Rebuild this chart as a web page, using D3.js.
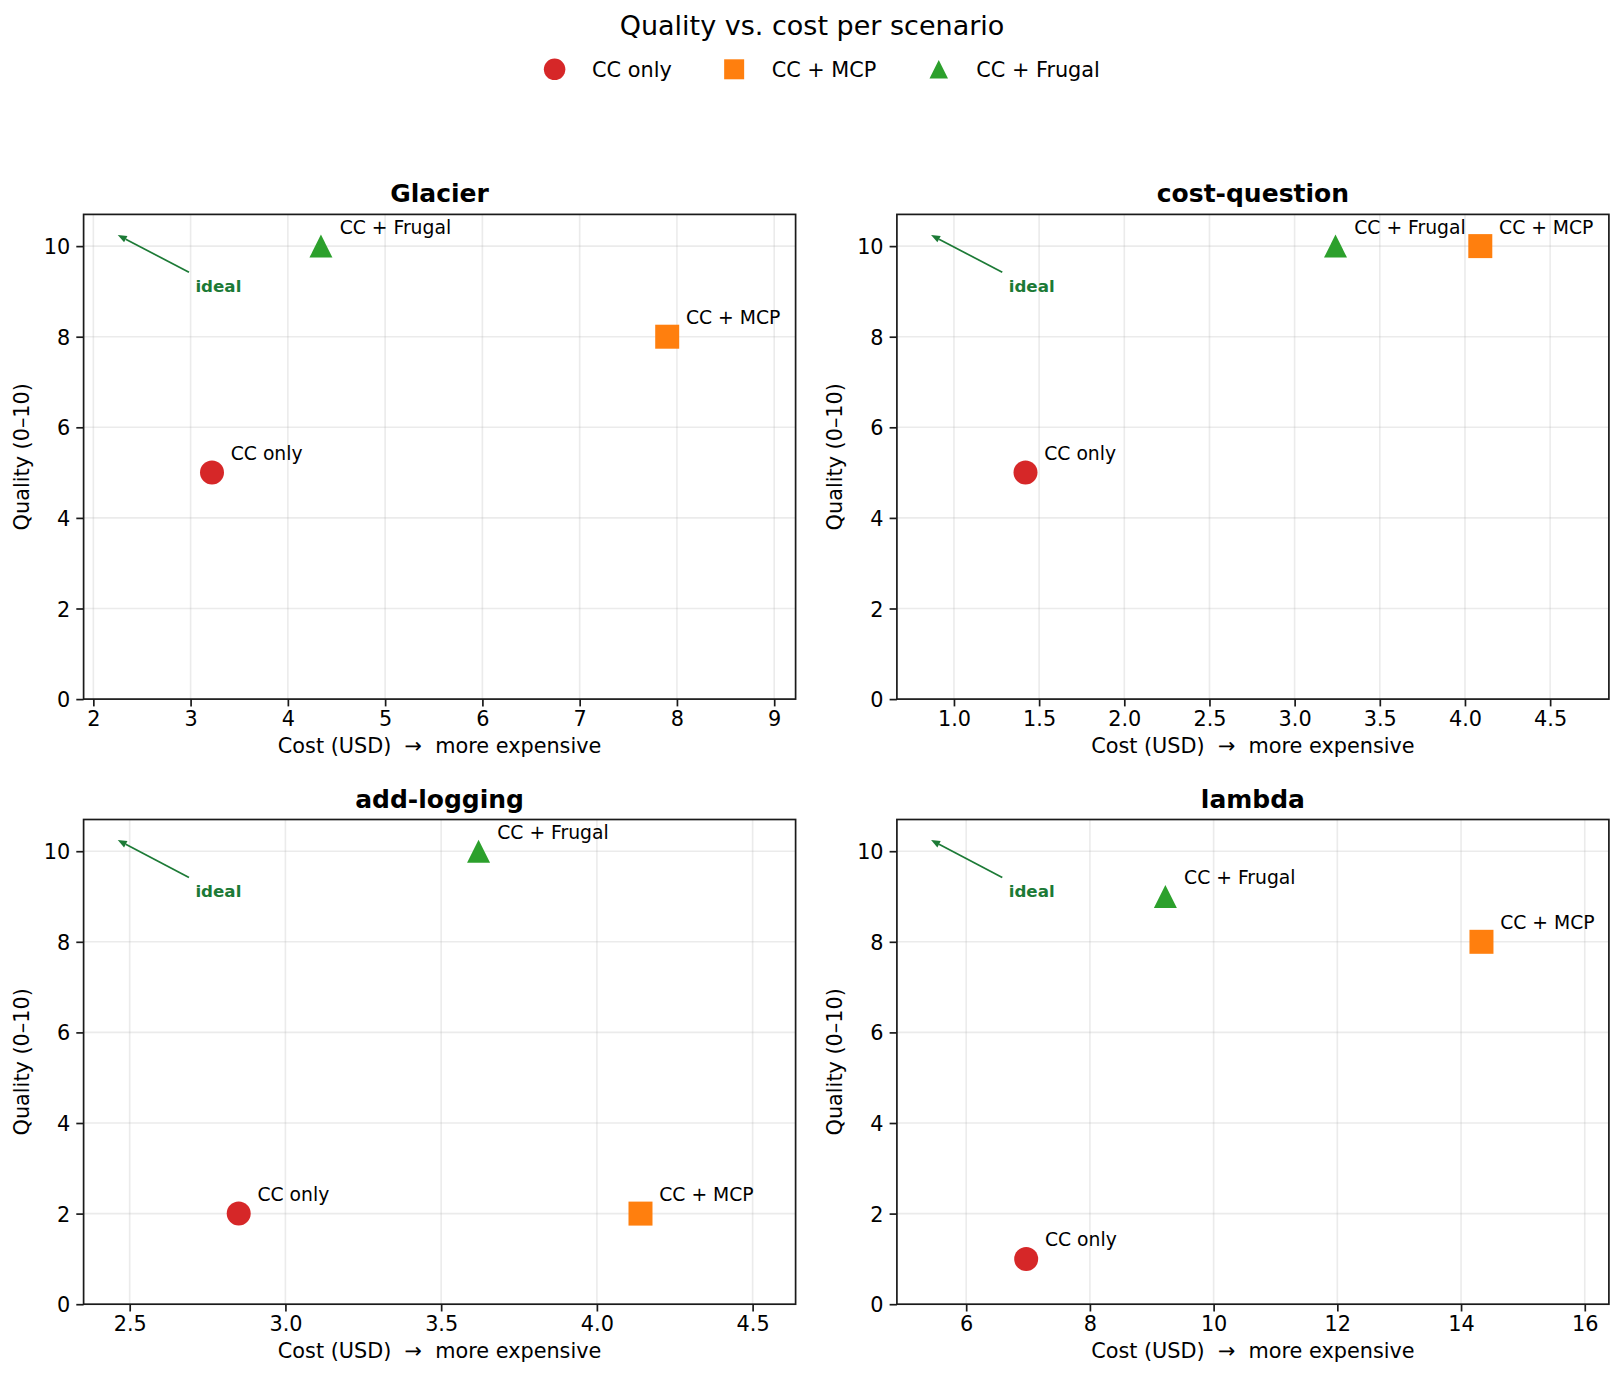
<!DOCTYPE html>
<html>
<head>
<meta charset="utf-8">
<script src="https://cdn.jsdelivr.net/npm/d3@7"></script>
<style>
  body { margin: 0; background: #fff; }
  text { font-family: "DejaVu Sans", sans-serif; }
</style>
</head>
<body>
<div id="chart"></div>
<script>
// data
const scenarios = ["Glacier", "cost-question", "add-logging", "lambda"];
const seriesNames = ["CC only", "CC + MCP", "CC + Frugal"];
const seriesColors = ["#d62728", "#ff7f0e", "#2ca02c"];

const costCCOnly = [3.22, 1.42, 2.85, 6.97];
const costMCP = [7.90, 4.09, 4.14, 14.33];
const costFrugal = [4.34, 3.24, 3.62, 9.22];

const qualityCCOnly = [5, 5, 2, 1];
const qualityMCP = [8, 10, 2, 8];
const qualityFrugal = [10, 10, 10, 9];

const xDomains = [[1.90, 9.22], [0.665, 4.845], [2.352, 4.638], [4.88, 16.39]];
const xTicks = [
  [2, 3, 4, 5, 6, 7, 8, 9],
  [1.0, 1.5, 2.0, 2.5, 3.0, 3.5, 4.0, 4.5],
  [2.5, 3.0, 3.5, 4.0, 4.5],
  [6, 8, 10, 12, 14, 16]
];
const xFormats = ["d", ".1f", ".1f", "d"];
const yDomain = [0, 10.7];
const yTicks = [0, 2, 4, 6, 8, 10];

const costs = [costCCOnly, costMCP, costFrugal];
const qualities = [qualityCCOnly, qualityMCP, qualityFrugal];

const W = 1624, H = 1382;
const svg = d3.select('#chart').append('svg').attr('width', W).attr('height', H);
svg.append('rect').attr('width', W).attr('height', H).attr('fill', '#fff');

// matplotlib style '^' : isoceles triangle, width == height
const triangle = {
  draw(ctx, size) {
    const r = Math.sqrt(size) / 2;
    ctx.moveTo(0, -r); ctx.lineTo(r, r); ctx.lineTo(-r, r); ctx.closePath();
  }
};
const shapes = [d3.symbolCircle, d3.symbolSquare, triangle];
const plotSizes = [Math.PI * 144, 576, 529];
const legendSizes = [Math.PI * 10.75 * 10.75, 400, 342];

svg.append('text').text('Quality vs. cost per scenario')
  .attr('x', 812).attr('y', 35).attr('text-anchor', 'middle')
  .style('font-size', '27px').attr('fill', '#000');

// legend across the top
const legend = svg.append('g');
let lx = 533.8;
seriesNames.forEach((s, k) => {
  legend.append('path').attr('d', d3.symbol(shapes[k], legendSizes[k])())
    .attr('transform', `translate(${lx + 20.8},69.3)`).attr('fill', seriesColors[k]);
  const t = legend.append('text').text(s).attr('x', lx + 41.6 + 16.7).attr('y', 77)
    .style('font-size', '20.8px').attr('fill', '#000');
  lx += 41.6 + 16.7 + t.node().getComputedTextLength() + 41.6;
});

const cols = [83.6, 896.9], rows = [214.4, 819.5];
const pw = 712, ph = 484.7;
const green = '#1c7a36';

scenarios.forEach((name, i) => {
  const g = svg.append('g').attr('transform', `translate(${cols[i % 2]},${rows[Math.floor(i / 2)]})`);
  const x = d3.scaleLinear().domain(xDomains[i]).range([0, pw]);
  const y = d3.scaleLinear().domain(yDomain).range([ph, 0]);

  // grid
  g.append('g').selectAll('line').data(xTicks[i]).join('line')
    .attr('x1', d => x(d)).attr('x2', d => x(d)).attr('y1', 0).attr('y2', ph)
    .attr('stroke', '#b0b0b0').attr('stroke-opacity', 0.25).attr('stroke-width', 1.6);
  g.append('g').selectAll('line').data(yTicks).join('line')
    .attr('y1', d => y(d)).attr('y2', d => y(d)).attr('x1', 0).attr('x2', pw)
    .attr('stroke', '#b0b0b0').attr('stroke-opacity', 0.25).attr('stroke-width', 1.6);

  // axes
  const xa = g.append('g').attr('transform', `translate(0,${ph})`)
    .call(d3.axisBottom(x).tickValues(xTicks[i]).tickFormat(d3.format(xFormats[i])).tickSize(7.3));
  const ya = g.append('g')
    .call(d3.axisLeft(y).tickValues(yTicks).tickFormat(d3.format('d')).tickSize(7.3));
  [xa, ya].forEach(a => {
    a.select('.domain').remove();
    a.selectAll('.tick line').attr('stroke', '#1a1a1a').attr('stroke-width', 1.7);
    a.selectAll('.tick text').style('font-size', '20.8px').attr('fill', '#000')
      .style('font-family', '"DejaVu Sans", sans-serif');
  });
  xa.selectAll('.tick text').attr('y', 27).attr('dy', null);
  ya.selectAll('.tick text').attr('x', -13.3).attr('dy', '0.36em');

  g.append('rect').attr('width', pw).attr('height', ph)
    .attr('fill', 'none').attr('stroke', '#1a1a1a').attr('stroke-width', 1.7);

  g.append('text').text(name).attr('x', pw / 2).attr('y', -12)
    .attr('text-anchor', 'middle').style('font-size', '25px').style('font-weight', 'bold').attr('fill', '#000');
  g.append('text').text('Cost (USD)  \u2192  more expensive').attr('x', pw / 2).attr('y', ph + 54)
    .attr('text-anchor', 'middle').style('font-size', '20.8px').attr('fill', '#000')
    .style('white-space', 'pre');
  g.append('text').text('Quality (0\u201310)')
    .attr('transform', `translate(-54.6,${ph / 2}) rotate(-90)`)
    .attr('text-anchor', 'middle').style('font-size', '20.8px').attr('fill', '#000');

  // "ideal" arrow toward the upper-left corner
  const hx = 0.048 * pw, hy = 0.0425 * ph, tx = 0.148 * pw, ty = 0.1195 * ph;
  const len = Math.hypot(hx - tx, hy - ty), ux = (hx - tx) / len, uy = (hy - ty) / len;
  const bx = hx - ux * 9, by = hy - uy * 9;
  g.append('line').attr('x1', tx).attr('y1', ty).attr('x2', bx).attr('y2', by)
    .attr('stroke', green).attr('stroke-width', 1.7);
  g.append('path')
    .attr('d', `M${hx},${hy}L${bx - uy * 3.6},${by + ux * 3.6}L${bx + uy * 3.6},${by - ux * 3.6}Z`)
    .attr('fill', green);
  g.append('text').text('ideal').attr('x', 0.157 * pw).attr('y', 0.160 * ph)
    .style('font-size', '16.7px').style('font-weight', 'bold').attr('fill', green);

  // points and their labels
  seriesNames.forEach((s, k) => {
    const cx = x(costs[k][i]), cy = y(qualities[k][i]);
    g.append('path').attr('d', d3.symbol(shapes[k], plotSizes[k])())
      .attr('transform', `translate(${cx},${cy})`).attr('fill', seriesColors[k]);
    g.append('text').text(s).attr('x', cx + 18.75).attr('y', cy - 12.5)
      .style('font-size', '18.75px').attr('fill', '#000');
  });
});
</script>
</body>
</html>
